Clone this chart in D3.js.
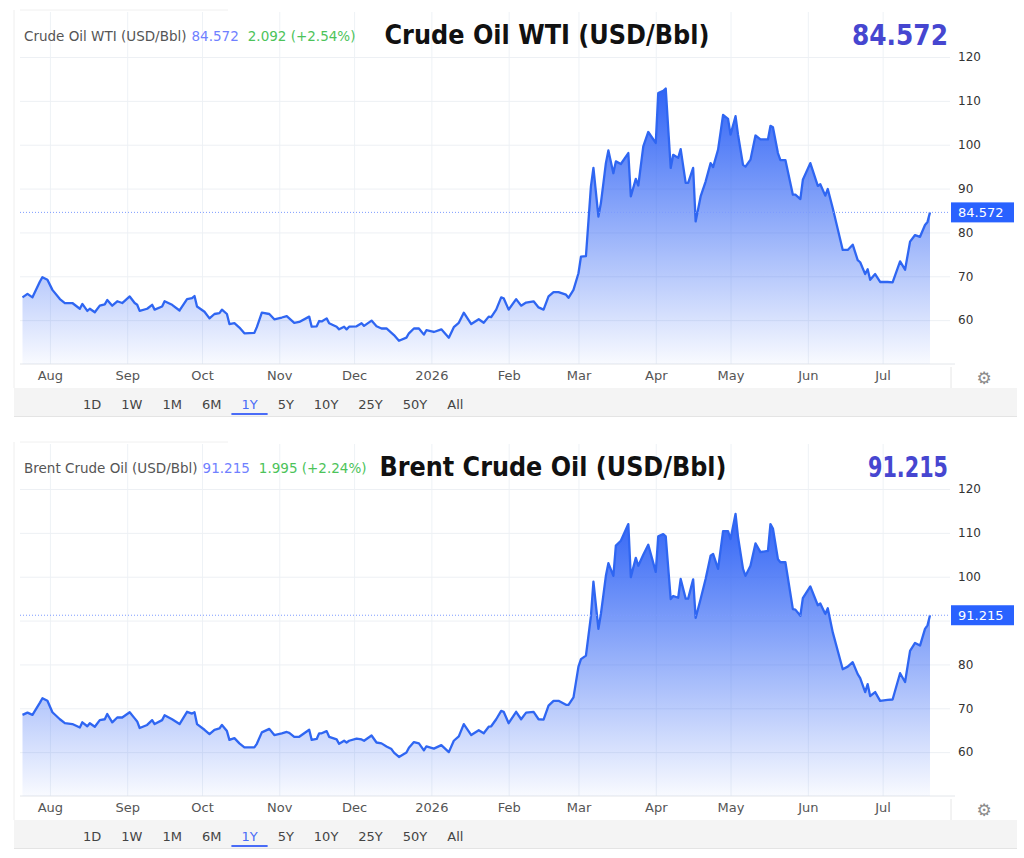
<!DOCTYPE html>
<html>
<head>
<meta charset="utf-8">
<script src="https://cdn.jsdelivr.net/npm/d3@7"></script>
<style>
body { margin: 0; background: #fff; }
text { font-family: "DejaVu Sans", sans-serif; }
</style>
</head>
<body>
<div id="chart"></div>
<script>
var w = 1024;
var h = 858;

// ---- data ----
var dates = [
  "2025-07-21","2025-07-23","2025-07-25","2025-07-28","2025-07-29","2025-07-31",
  "2025-08-02","2025-08-05","2025-08-07","2025-08-10","2025-08-13","2025-08-14","2025-08-16","2025-08-17","2025-08-19","2025-08-21","2025-08-23","2025-08-24","2025-08-26","2025-08-28","2025-08-30",
  "2025-09-02","2025-09-04","2025-09-05","2025-09-06","2025-09-09","2025-09-11","2025-09-12","2025-09-15","2025-09-16","2025-09-19","2025-09-22","2025-09-25","2025-09-27","2025-09-28","2025-09-29",
  "2025-10-02","2025-10-04","2025-10-06","2025-10-08","2025-10-09","2025-10-11","2025-10-12","2025-10-14","2025-10-16","2025-10-18","2025-10-22","2025-10-23","2025-10-25","2025-10-28","2025-10-30",
  "2025-11-02","2025-11-04","2025-11-05","2025-11-07","2025-11-09","2025-11-13","2025-11-14","2025-11-16","2025-11-17","2025-11-18","2025-11-20","2025-11-21","2025-11-24","2025-11-25","2025-11-27","2025-11-28","2025-11-29",
  "2025-12-02","2025-12-04","2025-12-05","2025-12-08","2025-12-10","2025-12-12","2025-12-14","2025-12-16","2025-12-17","2025-12-19","2025-12-22","2025-12-23","2025-12-25","2025-12-27","2025-12-29","2025-12-30",
  "2026-01-02","2026-01-05","2026-01-08","2026-01-10","2026-01-12","2026-01-14","2026-01-17","2026-01-20","2026-01-22","2026-01-24","2026-01-25","2026-01-27","2026-01-29","2026-01-30",
  "2026-02-01","2026-02-04","2026-02-06","2026-02-08","2026-02-11","2026-02-13","2026-02-15","2026-02-17","2026-02-19","2026-02-21","2026-02-24","2026-02-25","2026-02-27",
  "2026-03-01","2026-03-02","2026-03-04","2026-03-06","2026-03-07","2026-03-09","2026-03-10","2026-03-12","2026-03-13","2026-03-15","2026-03-16","2026-03-18","2026-03-21","2026-03-22","2026-03-24","2026-03-25","2026-03-27","2026-03-29",
  "2026-04-01","2026-04-02","2026-04-04","2026-04-05","2026-04-07","2026-04-08","2026-04-10","2026-04-11","2026-04-13","2026-04-14","2026-04-16","2026-04-17","2026-04-19","2026-04-21","2026-04-23","2026-04-24","2026-04-26","2026-04-28","2026-04-30",
  "2026-05-01","2026-05-03","2026-05-04","2026-05-06","2026-05-07","2026-05-09","2026-05-11","2026-05-13","2026-05-16","2026-05-17","2026-05-18","2026-05-20","2026-05-21","2026-05-23","2026-05-26","2026-05-27","2026-05-29","2026-05-30",
  "2026-06-02","2026-06-05","2026-06-06","2026-06-08","2026-06-09","2026-06-11","2026-06-15","2026-06-17","2026-06-19","2026-06-21","2026-06-22","2026-06-24","2026-06-25","2026-06-26","2026-06-28","2026-06-30",
  "2026-07-03","2026-07-05","2026-07-08","2026-07-10","2026-07-12","2026-07-14","2026-07-16","2026-07-18","2026-07-19","2026-07-20"
];

var wti = [
  65.2, 66.0, 65.2, 68.8, 69.8, 69.2,
  66.9, 64.8, 63.9, 63.9, 62.6, 63.7, 62.1, 62.6, 61.8, 63.3, 63.6, 64.6, 63.3, 64.3, 63.9,
  65.4, 63.9, 63.5, 62.1, 62.6, 63.5, 62.4, 63.1, 64.3, 63.5, 62.2, 64.8, 65.0, 65.5, 63.1,
  61.9, 60.4, 61.4, 61.6, 62.4, 61.4, 59.1, 59.3, 58.3, 57.0, 57.1, 58.4, 61.7, 61.4, 60.2,
  60.6, 60.9, 60.4, 59.4, 59.6, 60.8, 58.5, 58.6, 59.8, 59.7, 60.4, 59.3, 58.5, 57.9, 58.5, 57.9, 58.5,
  58.6, 59.3, 58.7, 59.9, 58.6, 58.1, 58.1, 57.1, 56.6, 55.3, 56.0, 57.0, 58.1, 58.1, 56.7, 57.7,
  57.3, 57.9, 56.0, 58.4, 59.4, 61.7, 59.1, 60.2, 59.4, 60.8, 60.7, 62.4, 65.2, 65.0,
  62.4, 64.8, 63.3, 64.0, 64.3, 62.9, 62.4, 65.4, 66.4, 66.4, 65.8, 65.1, 66.9,
  70.7, 74.5, 74.6, 90.5, 94.7, 83.6, 86.7, 95.8, 98.7, 93.5, 96.2, 95.6, 98.1, 88.2, 92.2, 90.7, 99.6, 102.9,
  100.4, 111.8, 112.3, 112.8, 94.7, 97.7, 97.0, 99.0, 91.3, 91.3, 94.7, 82.5, 88.2, 91.6, 95.8, 94.9, 98.9, 106.8, 105.9,
  102.3, 106.5, 102.3, 95.4, 95.0, 96.6, 102.1, 101.2, 101.2, 104.3, 104.0, 98.1, 96.5, 96.5, 88.6, 88.6, 87.6, 92.0,
  95.8, 90.6, 91.0, 88.4, 89.9, 85.5, 76.0, 76.0, 77.2, 73.7, 73.2, 70.5, 71.6, 69.2, 70.5, 68.7,
  68.7, 68.6, 73.4, 71.5, 77.9, 79.4, 79.0, 81.7, 82.4, 84.572
];

var brent = [
  68.5, 69.0, 68.5, 71.3, 72.3, 71.7,
  69.1, 67.5, 66.6, 66.4, 65.6, 66.8, 65.9, 66.6, 65.8, 67.3, 67.5, 68.7, 66.8, 67.9, 67.9,
  69.1, 67.7, 67.0, 65.5, 66.2, 67.3, 66.4, 67.3, 68.4, 67.5, 66.4, 69.2, 68.8, 69.1, 66.4,
  65.1, 64.1, 65.1, 65.4, 66.2, 64.8, 62.8, 63.2, 62.0, 61.1, 61.1, 61.9, 64.5, 65.3, 63.9,
  64.3, 64.6, 64.4, 63.5, 63.5, 65.1, 62.8, 63.0, 64.3, 64.3, 64.8, 63.5, 62.9, 61.9, 62.6, 62.2, 62.6,
  63.1, 62.9, 62.6, 63.8, 62.2, 62.0, 61.3, 60.7, 59.9, 58.9, 59.9, 61.0, 62.3, 62.0, 60.4, 61.3,
  60.8, 61.6, 60.0, 62.6, 63.6, 66.4, 63.9, 65.0, 64.3, 65.8, 65.9, 67.5, 69.4, 69.2,
  66.6, 69.2, 67.5, 69.0, 69.2, 67.5, 67.4, 70.6, 71.7, 71.7, 70.8, 70.8, 72.5,
  79.5, 81.2, 82.0, 91.0, 98.9, 88.1, 91.5, 100.2, 103.1, 100.2, 107.1, 108.2, 112.0, 99.9, 104.3, 102.5, 105.0, 107.3,
  101.1, 109.2, 109.7, 109.2, 94.9, 95.6, 95.2, 99.5, 95.0, 95.0, 99.4, 90.6, 94.9, 99.5, 104.8, 105.2, 101.8, 110.4, 110.4,
  108.6, 114.3, 109.1, 101.8, 100.2, 102.5, 107.6, 105.6, 105.9, 112.0, 111.0, 104.0, 103.3, 103.3, 92.6, 92.5, 91.1, 95.1,
  97.8, 93.5, 93.9, 91.5, 92.8, 87.3, 78.9, 79.5, 80.5, 77.8, 76.9, 73.7, 75.5, 72.8, 73.7, 71.7,
  71.9, 72.0, 78.0, 76.0, 83.1, 84.9, 84.3, 88.1, 88.9, 91.215
];

var titles = ["Crude Oil WTI (USD/Bbl)", "Brent Crude Oil (USD/Bbl)"];
var lastLabels = ["84.572", "91.215"];
var changes = ["2.092 (+2.54%)", "1.995 (+2.24%)"];
var yTicks = [60, 70, 80, 90, 100, 110, 120];
var ranges = ["1D", "1W", "1M", "6M", "1Y", "5Y", "10Y", "25Y", "50Y", "All"];

// ---- layout ----
var panelTop = [0, 432];
var titleWidth = [325, 347];
var titleCenter = [547, 553];
var valueWidth = [96, 80];
var plotLeft = 20, plotRight = 950, lineEnd = 930;
var plotTop = 57, plotBottom = 364, gridTop = 12;

var parseDate = d3.timeParse("%Y-%m-%d");
var monthFmt = d3.timeFormat("%b"), yearFmt = d3.timeFormat("%Y");

var first = parseDate(dates[0]);
var last = parseDate(dates[dates.length - 1]);

var xScale = d3.scaleTime()
    .domain([d3.timeDay.offset(first, -1), last])
    .range([plotLeft, lineEnd]);

var yScale = d3.scaleLinear()
    .domain([50, 120])
    .range([plotBottom, plotTop]);

var svg = d3.select("#chart")
    .append("svg")
    .attr("width", w)
    .attr("height", h);

var defs = svg.append("defs");

[wti, brent].forEach(function(values, i) {
  var pts = dates.map(function(d, j) { return {date: parseDate(d), v: values[j]}; });
  var lastV = values[values.length - 1];
  var g = svg.append("g").attr("transform", "translate(0," + panelTop[i] + ")");

  // fill gradient
  var grad = defs.append("linearGradient")
      .attr("id", "fill" + i)
      .attr("x1", 0).attr("y1", 0).attr("x2", 0).attr("y2", 1);
  grad.append("stop").attr("offset", "0%").attr("stop-color", "#2a5ff5").attr("stop-opacity", 0.97);
  grad.append("stop").attr("offset", "45%").attr("stop-color", "#2a5ff5").attr("stop-opacity", 0.55);
  grad.append("stop").attr("offset", "100%").attr("stop-color", "#2a5ff5").attr("stop-opacity", 0.03);

  // panel frame
  g.append("line")
      .attr("x1", 14).attr("x2", 14).attr("y1", 10).attr("y2", 388)
      .attr("stroke", "#eeeeee");
  g.append("line")
      .attr("x1", 20).attr("x2", 228).attr("y1", 10).attr("y2", 10)
      .attr("stroke", "#f0f0f0");

  // month grid
  g.append("g")
      .attr("transform", "translate(0," + plotBottom + ")")
      .call(d3.axisBottom(xScale).ticks(d3.timeMonth.every(1)).tickSize(-(plotBottom - gridTop)).tickFormat(""))
      .call(function(s) { s.select(".domain").remove(); })
      .selectAll("line").attr("stroke", "#eef2f6");

  // value grid
  g.append("g")
      .attr("transform", "translate(" + plotRight + ",0)")
      .call(d3.axisLeft(yScale).tickValues(yTicks).tickSize(plotRight - plotLeft).tickFormat(""))
      .call(function(s) { s.select(".domain").remove(); })
      .selectAll("line").attr("stroke", "#edf0f4");

  g.append("line")
      .attr("x1", plotLeft).attr("x2", plotRight + 5)
      .attr("y1", plotBottom).attr("y2", plotBottom)
      .attr("stroke", "#e3e6ea");

  // area + line
  var area = d3.area()
      .x(function(d) { return xScale(d.date); })
      .y0(yScale(50))
      .y1(function(d) { return yScale(d.v); });

  var line = d3.line()
      .x(function(d) { return xScale(d.date); })
      .y(function(d) { return yScale(d.v); });

  g.append("path")
      .datum(pts)
      .attr("d", area)
      .attr("fill", "url(#fill" + i + ")");

  g.append("path")
      .datum(pts)
      .attr("d", line)
      .attr("fill", "none")
      .attr("stroke", "#2f66f2")
      .attr("stroke-width", 2.3)
      .attr("stroke-linejoin", "round");

  // y axis labels (the one hidden under the price box is left out)
  var shownTicks = yTicks.filter(function(t) { return Math.abs(yScale(t) - yScale(lastV)) > 12; });
  g.append("g")
      .attr("transform", "translate(" + plotRight + ",0)")
      .call(d3.axisRight(yScale).tickValues(shownTicks).tickSize(0).tickPadding(8))
      .call(function(s) { s.select(".domain").remove(); })
      .selectAll("text")
      .attr("font-family", "DejaVu Sans")
      .attr("font-size", "12px")
      .attr("fill", "#333");

  // last value marker line + box
  g.append("line")
      .attr("x1", plotLeft).attr("x2", plotRight)
      .attr("y1", yScale(lastV)).attr("y2", yScale(lastV))
      .attr("stroke", "#7d9bff")
      .attr("stroke-dasharray", "1,2");

  g.append("rect")
      .attr("x", plotRight + 1).attr("y", yScale(lastV) - 10)
      .attr("width", 63).attr("height", 20)
      .attr("fill", "#2962ff");

  g.append("text")
      .attr("x", plotRight + 8).attr("y", yScale(lastV))
      .attr("dy", "0.36em")
      .attr("font-size", "13px")
      .attr("fill", "#fff")
      .text(lastLabels[i]);

  // x axis labels
  g.append("g")
      .attr("transform", "translate(0," + plotBottom + ")")
      .call(d3.axisBottom(xScale)
          .ticks(d3.timeMonth.every(1))
          .tickSize(0)
          .tickPadding(7)
          .tickFormat(function(d) { return d.getMonth() === 0 ? yearFmt(d) : monthFmt(d); }))
      .call(function(s) { s.select(".domain").remove(); })
      .selectAll("text")
      .attr("font-family", "DejaVu Sans")
      .attr("font-size", "13px")
      .attr("fill", "#555");

  g.append("line")
      .attr("x1", plotRight + 1).attr("x2", plotRight + 1)
      .attr("y1", plotBottom + 3).attr("y2", 388)
      .attr("stroke", "#e6e6e6");

  g.append("text")
      .attr("x", 984).attr("y", 384)
      .attr("text-anchor", "middle")
      .attr("font-size", "17px")
      .attr("fill", "#8a8a8a")
      .text("\u2699");

  // range buttons bar
  g.append("rect")
      .attr("x", 14).attr("y", 388)
      .attr("width", 1003).attr("height", 28)
      .attr("fill", "#f4f4f4");
  g.append("line")
      .attr("x1", 14).attr("x2", 1017).attr("y1", 416.5).attr("y2", 416.5)
      .attr("stroke", "#e4e4e4");

  var bx = 83;
  ranges.forEach(function(r) {
    var t = g.append("text")
        .attr("x", bx).attr("y", 408.5)
        .attr("font-size", "13px")
        .attr("fill", r === "1Y" ? "#4a6cf7" : "#444")
        .text(r);
    var tw = t.node().getComputedTextLength();
    if (r === "1Y") {
      g.append("rect")
          .attr("x", bx - 10).attr("y", 413)
          .attr("width", tw + 20).attr("height", 2)
          .attr("fill", "#4a6cf7");
    }
    bx += tw + 20;
  });

  // headers
  var head = g.append("text")
      .attr("x", 24).attr("y", 41)
      .attr("font-size", "13.5px");
  head.append("tspan").attr("fill", "#555").text(titles[i]);
  head.append("tspan").attr("fill", "#6f80ff").attr("dx", 5).text(lastLabels[i]);
  head.append("tspan").attr("fill", "#4cc35a").attr("dx", 9).text(changes[i]);

  g.append("text")
      .attr("x", titleCenter[i]).attr("y", 44)
      .attr("text-anchor", "middle")
      .attr("font-family", "DejaVu Sans Condensed")
      .attr("font-weight", "bold")
      .attr("font-size", "27px")
      .attr("textLength", titleWidth[i])
      .attr("lengthAdjust", "spacingAndGlyphs")
      .attr("fill", "#111")
      .text(titles[i]);

  g.append("text")
      .attr("x", 948).attr("y", 45)
      .attr("text-anchor", "end")
      .attr("font-family", "DejaVu Sans Condensed")
      .attr("font-weight", "bold")
      .attr("font-size", "28px")
      .attr("textLength", valueWidth[i])
      .attr("lengthAdjust", "spacingAndGlyphs")
      .attr("fill", "#4646d0")
      .text(lastLabels[i]);
});
</script>
</body>
</html>
